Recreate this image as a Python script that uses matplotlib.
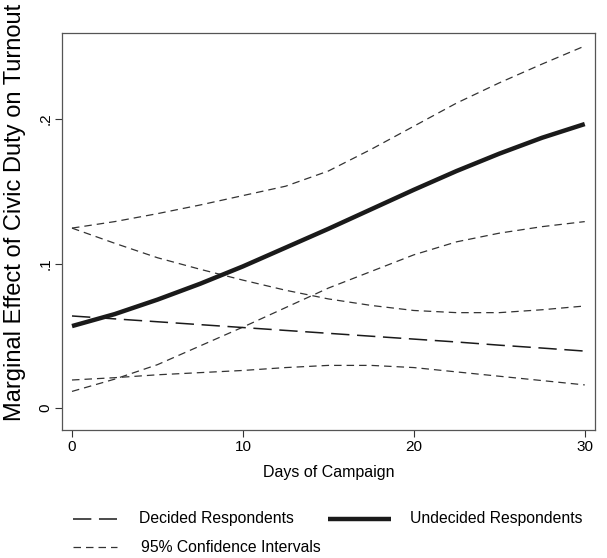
import matplotlib
matplotlib.use("Agg")
import matplotlib.pyplot as plt
from matplotlib.lines import Line2D

days = [0, 2.5, 5, 7.5, 10, 12.5, 15, 17.5, 20, 22.5, 25, 27.5, 30]
undecided = [0.0567, 0.065, 0.075, 0.086, 0.098, 0.111, 0.124, 0.1375, 0.151, 0.164, 0.176, 0.187, 0.1965]
und_upper = [0.1245, 0.129, 0.1345, 0.1405, 0.147, 0.1535, 0.164, 0.179, 0.195, 0.211, 0.225, 0.238, 0.2505]
und_lower = [0.0115, 0.020, 0.030, 0.043, 0.056, 0.0695, 0.083, 0.0945, 0.106, 0.115, 0.121, 0.1255, 0.129]
decided = [0.0637, 0.0617, 0.0597, 0.0577, 0.0557, 0.0537, 0.0517, 0.0497, 0.0477, 0.0457, 0.0435, 0.0415, 0.0394]
dec_upper = [0.1245, 0.114, 0.104, 0.096, 0.0885, 0.0815, 0.0755, 0.071, 0.0675, 0.066, 0.066, 0.068, 0.0706]
dec_lower = [0.0194, 0.021, 0.023, 0.0245, 0.026, 0.028, 0.0295, 0.0295, 0.028, 0.025, 0.022, 0.019, 0.016]

xticks = [0, 10, 20, 30]
yticks = [0, 0.1, 0.2]
yticklabels = ["0", ".1", ".2"]

narrow = ["Liberation Sans Narrow", "Liberation Sans", "DejaVu Sans"]
regular = ["Liberation Sans", "DejaVu Sans"]

fig = plt.figure(figsize=(6.07, 5.58), dpi=100)
ax = fig.add_axes([62/607, (558-430)/558, 533/607, 397/558])

ci_style = dict(color="#333333", lw=0.9, dashes=(6, 4))
ax.plot(days, und_upper, **ci_style)
ax.plot(days, und_lower, **ci_style)
ax.plot(days, dec_upper, **ci_style)
ax.plot(days, dec_lower, **ci_style)
ax.plot(days, decided, color="#1a1a1a", lw=1.1, dashes=(12, 5))
ax.plot(days, undecided, color="#1a1a1a", lw=3.2, solid_capstyle="butt")

ax.set_xlim(-0.585, 30.6)
ax.set_ylim(-0.0152, 0.2595)
ax.set_xticks(xticks)
ax.set_xticklabels([str(t) for t in xticks], fontfamily=narrow, fontsize=11)
ax.set_yticks(yticks)
ax.set_yticklabels(yticklabels, rotation=90, va="center", fontfamily=regular, fontsize=11)
ax.tick_params(direction="out", length=5, width=0.8, color="#333333")
ax.tick_params(axis="x", pad=2)
ax.tick_params(axis="y", pad=2)
for s in ax.spines.values():
    s.set_color("#555555")
    s.set_linewidth(0.9)

ax.set_xlabel("Days of Campaign", fontfamily=narrow, fontsize=11.5, labelpad=8)
ax.set_ylabel("Marginal Effect of Civic Duty on Turnout", fontfamily=regular, fontsize=17)
ax.yaxis.set_label_coords(-0.068, 0.549)

# legend
fig.add_artist(Line2D([73/607, 117/607], [1-519/558]*2, color="#1a1a1a", lw=1.1, dashes=(12, 5)))
fig.text(139/607, 1-519/558, "Decided Respondents", fontfamily=narrow, fontsize=11.3, va="center")
fig.add_artist(Line2D([328/607, 391/607], [1-519/558]*2, color="#1a1a1a", lw=3.2, solid_capstyle="butt"))
fig.text(410/607, 1-519/558, "Undecided Respondents", fontfamily=narrow, fontsize=11.3, va="center")
fig.add_artist(Line2D([73/607, 117/607], [1-547/558]*2, color="#333333", lw=0.9, dashes=(6, 4)))
fig.text(141/607, 1-547/558, "95% Confidence Intervals", fontfamily=narrow, fontsize=11.3, va="center")

fig.savefig("out.png", dpi=100)
